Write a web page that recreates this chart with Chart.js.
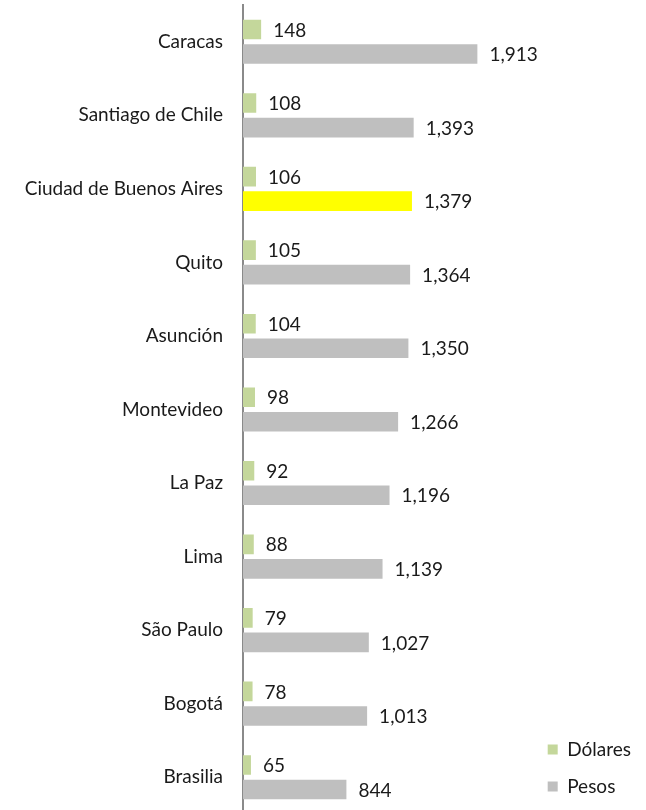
<!DOCTYPE html>
<html>
<head>
<meta charset="utf-8">
<script src="https://cdn.jsdelivr.net/npm/chart.js@4"></script>
<style>
  html, body { margin: 0; padding: 0; background: #fff; overflow: hidden; }
  #wrap { position: absolute; left: 0; top: 0; width: 646px; height: 814px; }
</style>
</head>
<body>
<div id="wrap"><canvas id="chart"></canvas></div>
<script>
// Data
const cities = ["Caracas", "Santiago de Chile", "Ciudad de Buenos Aires", "Quito", "Asunción",
  "Montevideo", "La Paz", "Lima", "São Paulo", "Bogotá", "Brasilia"];
const dolares = [148, 108, 106, 105, 104, 98, 92, 88, 79, 78, 65];
const pesos = [1913, 1393, 1379, 1364, 1350, 1266, 1196, 1139, 1027, 1013, 844];
const highlightCity = "Ciudad de Buenos Aires";

const FONT = "Lato, 'Open Sans', sans-serif";
const TEXT = "#1a1a1a";

// Draws the value next to the end of each bar
const valueLabels = {
  id: "valueLabels",
  afterDatasetsDraw(chart) {
    const ctx = chart.ctx;
    ctx.save();
    ctx.font = "19px " + FONT;
    ctx.fillStyle = TEXT;
    ctx.textAlign = "left";
    ctx.textBaseline = "middle";
    chart.data.datasets.forEach((ds, i) => {
      chart.getDatasetMeta(i).data.forEach((bar, j) => {
        ctx.fillText(ds.data[j].toLocaleString("en-US"), bar.x + 12, bar.y + 1);
      });
    });
    ctx.restore();
  }
};

new Chart(document.getElementById("chart"), {
  type: "bar",
  data: {
    labels: cities,
    datasets: [{
      label: "Dólares",
      data: dolares,
      backgroundColor: "#C4D79B",
      borderWidth: 0,
      categoryPercentage: 0.667,
      barPercentage: 0.8
    }, {
      label: "Pesos",
      data: pesos,
      backgroundColor: ctx => cities[ctx.dataIndex] === highlightCity ? "#FFFF00" : "#BFBFBF",
      borderWidth: 0,
      categoryPercentage: 0.667,
      barPercentage: 0.8
    }]
  },
  options: {
    indexAxis: "y",
    responsive: true,
    maintainAspectRatio: false,
    animation: false,
    layout: { padding: { top: 5, left: 0, right: 5, bottom: 0 } },
    scales: {
      x: { display: false, min: 0, max: 2340 },
      y: {
        afterFit: scale => {
          scale.width = 243;
          // labels shouldn't push the plot area in
          scale.paddingTop = 0;
          scale.paddingBottom = 0;
        },
        grid: { display: false, drawTicks: false },
        border: { display: true, color: "#8a8a8a", width: 2 },
        ticks: { color: TEXT, font: { size: 19, family: FONT }, padding: 20 }
      }
    },
    plugins: {
      legend: {
        position: "right",
        align: "end",
        labels: {
          color: TEXT,
          font: { size: 19, family: FONT },
          boxWidth: 10,
          boxHeight: 10,
          padding: 18
        }
      },
      tooltip: { enabled: false }
    }
  },
  plugins: [valueLabels]
});
</script>
</body>
</html>
